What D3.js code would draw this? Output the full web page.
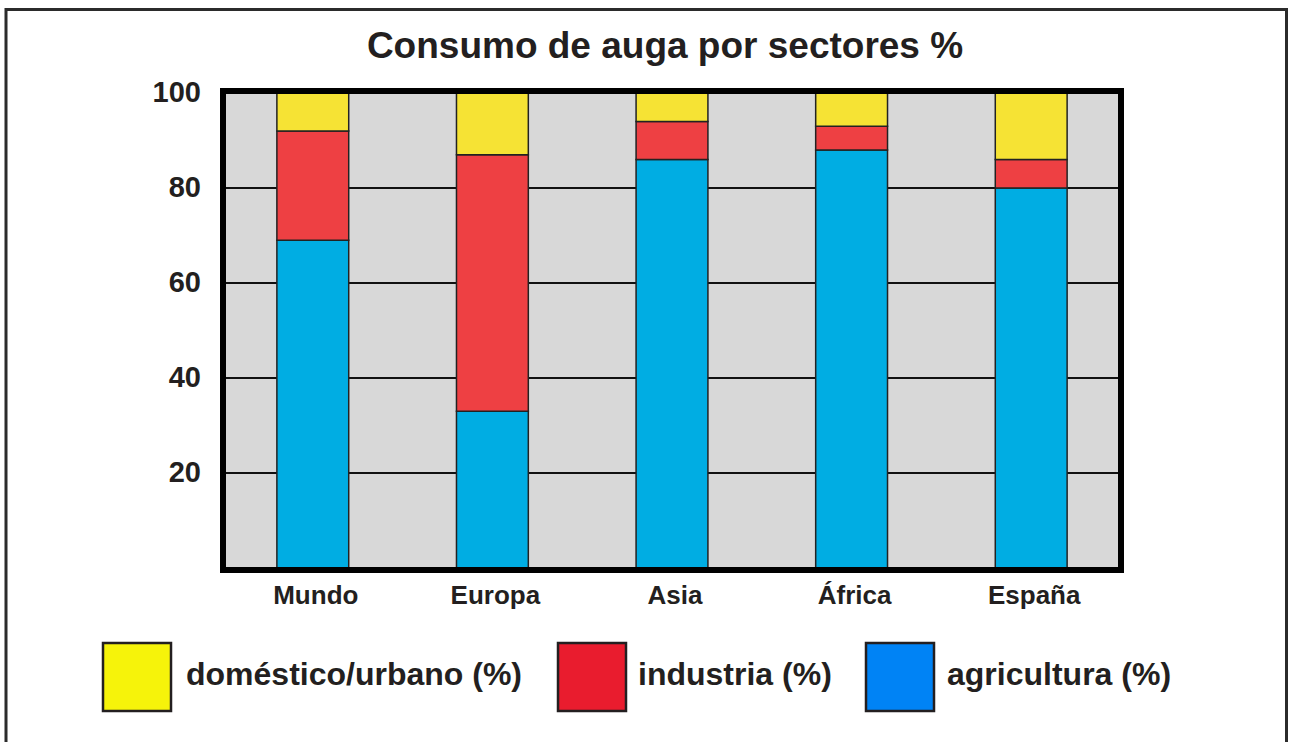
<!DOCTYPE html>
<html>
	<head>
		<title>Consumo de auga por sectores</title>
		<style type="text/css">
			body {
				margin: 0px;
				background-color: #fff;
			}
			text {
				font-family: "Liberation Sans", Arial, sans-serif;
				font-weight: bold;
				fill: #231f20;
			}
		</style>
		<script src="https://d3js.org/d3.v7.min.js" charset="utf-8"></script>
	</head>
	<body>
		<script type="text/javascript">
			var categories = ["Mundo", "Europa", "Asia", "África", "España"];
			var agricultura = [69, 33, 86, 88, 80];
			var industria = [23, 54, 8, 5, 6];
			var domestico = [8, 13, 6, 7, 14];
			var yTicks = [20, 40, 60, 80, 100];
			var seriesNames = ["doméstico/urbano (%)", "industria (%)", "agricultura (%)"];

			var width = 1291, height = 742;
			var svg = d3.select("body").append("svg")
				.attr("width", width)
				.attr("height", height);

			// outer frame (no bottom edge visible)
			svg.append("path")
				.attr("d", "M6,742 V9.5 H1286.5 V742")
				.attr("fill", "none")
				.attr("stroke", "#2b2b2b")
				.attr("stroke-width", 3);

			svg.append("text")
				.attr("x", 665)
				.attr("y", 58)
				.attr("text-anchor", "middle")
				.style("font-size", "37px")
				.text("Consumo de auga por sectores %");

			var x = d3.scaleBand()
				.domain(categories)
				.range([223, 1121])
				.paddingInner(0.6)
				.paddingOuter(0.3);
			var y = d3.scaleLinear()
				.domain([0, 100])
				.range([568, 93]);

			svg.append("rect")
				.attr("x", 223)
				.attr("y", y(100))
				.attr("width", 1121 - 223)
				.attr("height", y(0) - y(100))
				.attr("fill", "#d8d8d8");

			// grid lines
			svg.selectAll(".grid")
				.data(yTicks.slice(0, 4))
				.enter()
					.append("line")
					.attr("class", "grid")
					.attr("x1", 223)
					.attr("x2", 1121)
					.attr("y1", function(d) { return y(d); })
					.attr("y2", function(d) { return y(d); })
					.attr("stroke", "#111")
					.attr("stroke-width", 2);

			// stacked bars
			var rows = categories.map(function(c, i) {
				return {cat: c, agricultura: agricultura[i], industria: industria[i], domestico: domestico[i]};
			});
			var stack = d3.stack().keys(["agricultura", "industria", "domestico"]);
			var barColors = {agricultura: "#00ade3", industria: "#ee4043", domestico: "#f6e334"};
			var layers = stack(rows);
			layers.forEach(function(layer) {
				svg.selectAll(".bar-" + layer.key)
					.data(layer)
					.enter()
						.append("rect")
						.attr("class", "bar-" + layer.key)
						.attr("x", function(d) { return x(d.data.cat); })
						.attr("width", x.bandwidth())
						.attr("y", function(d) { return y(d[1]); })
						.attr("height", function(d) { return y(d[0]) - y(d[1]); })
						.attr("fill", barColors[layer.key])
						.attr("stroke", "#222")
						.attr("stroke-width", 1.5);
			});

			// plot frame
			svg.append("rect")
				.attr("x", 223)
				.attr("y", y(100) - 2)
				.attr("width", 1121 - 223)
				.attr("height", y(0) - y(100) + 4)
				.attr("fill", "none")
				.attr("stroke", "#000")
				.attr("stroke-width", 6);

			var yAxis = svg.append("g")
				.attr("transform", "translate(201,0)")
				.call(d3.axisLeft(y).tickValues(yTicks).tickSize(0).tickPadding(0));
			yAxis.select(".domain").remove();
			yAxis.selectAll("text")
				.style("font-size", "29px")
				.attr("dy", "0.3em");

			var xAxis = svg.append("g")
				.attr("transform", "translate(3,0)")
				.call(d3.axisBottom(x).tickSize(0).tickPadding(0));
			xAxis.select(".domain").remove();
			xAxis.selectAll("text")
				.attr("y", 604)
				.attr("dy", 0)
				.style("font-size", "26px");

			// legend
			var legendX = [102, 557, 865];
			var legendTextX = [84, 81, 82];
			var legendColors = ["#f6f30a", "#e91c2e", "#0083f5"];
			var legend = svg.selectAll(".legend")
				.data(seriesNames)
				.enter()
					.append("g")
					.attr("class", "legend")
					.attr("transform", function(d, i) { return "translate(" + legendX[i] + ",642)"; });
			legend.append("rect")
				.attr("x", 1)
				.attr("y", 1)
				.attr("width", 68)
				.attr("height", 68)
				.attr("fill", function(d, i) { return legendColors[i]; })
				.attr("stroke", "#231f20")
				.attr("stroke-width", 2.5);
			legend.append("text")
				.attr("x", function(d, i) { return legendTextX[i]; })
				.attr("y", 43)
				.style("font-size", "32px")
				.text(function(d) { return d; });
		</script>
	</body>
</html>
